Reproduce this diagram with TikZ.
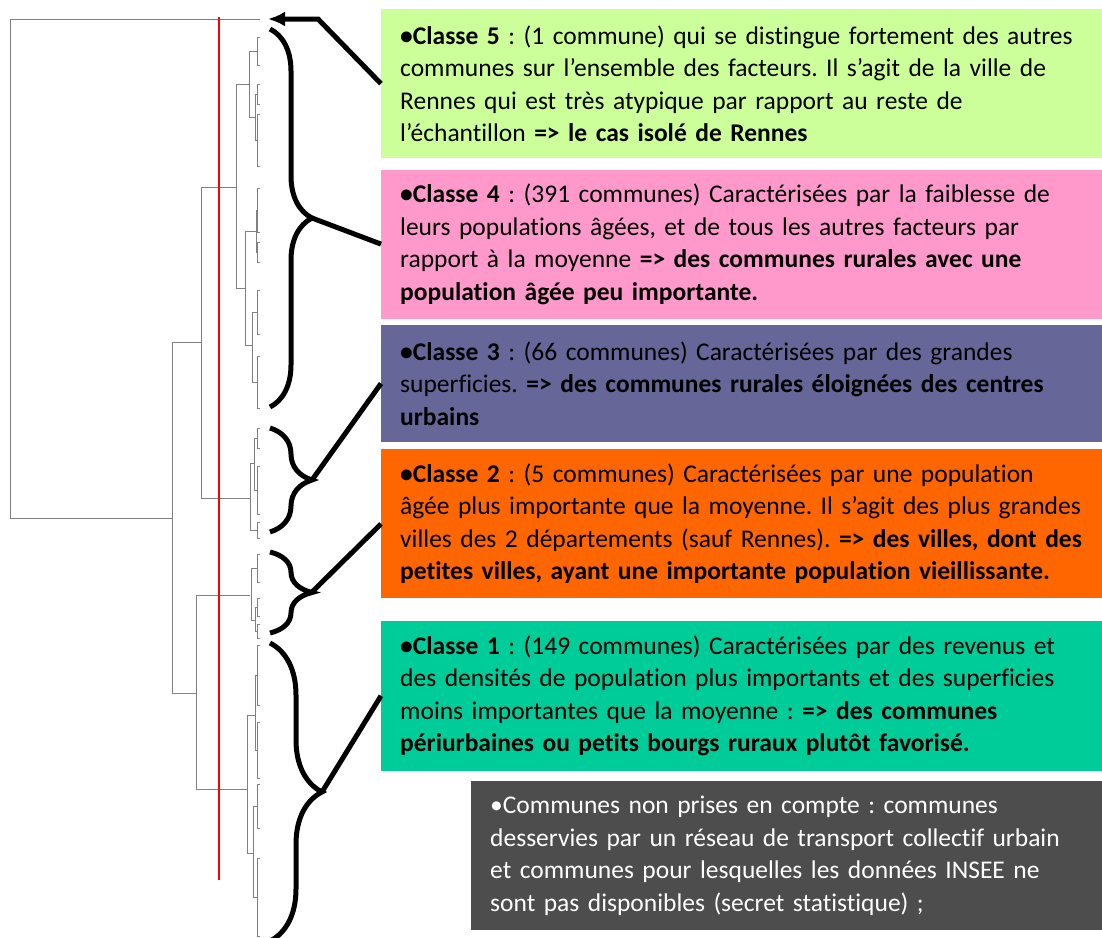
\documentclass[tikz,border=0pt]{standalone}
\usepackage{fontspec}
\setmainfont{Carlito}[Ligatures=CommonOff]
\usetikzlibrary{arrows.meta, decorations.pathreplacing, positioning}

\definecolor{classfive}{HTML}{CCFF99}
\definecolor{classfour}{HTML}{FF99CC}
\definecolor{classthree}{HTML}{666699}
\definecolor{classtwo}{HTML}{FF6600}
\definecolor{classone}{HTML}{00CC99}
\definecolor{other}{HTML}{4D4D4D}

\frenchspacing

\begin{document}
\begin{tikzpicture}[
    x=1pt, y=-1pt,
    font=\fontsize{25.5}{32.5}\selectfont,
    box/.style={rectangle, minimum width=740pt, text width=702pt, inner xsep=19pt, inner ysep=0pt, align=left},
    tall/.style={minimum height=149pt},
    dendro/.style={draw=gray, line width=1pt},
    curly/.style={decorate, decoration={brace, amplitude=#1}, line width=5pt},
    link/.style={line width=5pt}
]
\useasboundingbox (0,0) rectangle (1102,937);

% Boxes
\node[box, tall, fill=classfive, anchor=north west] (box5) at (381,9) {\textbf{•Classe 5} : (1 commune) qui se distingue fortement des autres\\communes sur l’ensemble des facteurs. Il s’agit de la ville de\\Rennes qui est très atypique par rapport au reste de\\l’échantillon \textbf{=> le cas isolé de Rennes}};
\node[box, tall, fill=classfour, below=11pt of box5] (box4) {\textbf{•Classe 4} : (391 communes) Caractérisées par la faiblesse de\\leurs populations âgées, et de tous les autres facteurs par\\rapport à la moyenne \textbf{=> des communes rurales avec une}\\\textbf{population âgée peu importante.}};
\node[box, minimum height=117pt, fill=classthree, below=6pt of box4] (box3) {\textbf{•Classe 3} : (66 communes) Caractérisées par des grandes\\superficies. \textbf{=> des communes rurales éloignées des centres}\\\textbf{urbains}};
\node[box, tall, fill=classtwo, below=7pt of box3] (box2) {\textbf{•Classe 2} : (5 communes) Caractérisées par une population\\âgée plus importante que la moyenne. Il s’agit des plus grandes\\villes des 2 départements (sauf Rennes). \textbf{=> des villes, dont des}\\\textbf{petites villes, ayant une importante population vieillissante.}};
\node[box, minimum height=150pt, fill=classone, below=22pt of box2] (box1) {\textbf{•Classe 1} : (149 communes) Caractérisées par des revenus et\\des densités de population plus importants et des superficies\\moins importantes que la moyenne : \textbf{=> des communes}\\\textbf{périurbaines ou petits bourgs ruraux plutôt favorisé.}};
\node[box, tall, minimum width=650pt, text width=612pt, fill=other, text=white, anchor=north west] (box0) at (box1.south west -| 471,0) [yshift=-10pt] {•Communes non prises en compte : communes\\desservies par un réseau de transport collectif urbain\\et communes pour lesquelles les données INSEE ne\\sont pas disponibles (secret statistique) ;};

% Dendrogram
\foreach \x/\ya/\yb/\xa/\xb in {10/19/518/260/172, 172/342/693/201/196, 201/187/498/236/250,
    196/595/789/250/247, 236/84/288/249/245, 249/51/117/257/255, 255/94/140/257/257,
    245/231/345/256/252, 256/210/252/257/257, 252/312/382/257/257, 250/463/530/254/257,
    254/438/490/257/257, 251/568/620/257/255, 255/607/631/257/257, 247/715/853/255/253,
    255/675/750/257/257, 253/806/897/257/257}
    \draw[dendro] (\xa,\ya) -- (\x,\ya) -- (\x,\yb) -- (\xb,\yb);
\foreach \ya/\yb in {37/65, 84/104, 114/166, 188/232, 242/262, 290/334, 356/408, 428/448,
    466/514, 522/538, 554/582, 598/616, 624/638, 645/705, 722/778, 784/828, 858/936}
    \draw[dendro] (260,\ya) -- (257,\ya) -- (257,\yb) -- (260,\yb);

% Cut line
\draw[red, line width=1.5pt] (219,17) -- (219,880);

% Braces
\draw[curly=42pt] (270,29) -- (270,407);
\draw[curly=42pt] (270,428) -- (270,532);
\draw[curly=42pt] (270,552) -- (270,633);
\draw[curly=52pt] (270,643) -- (270,941);
\coordinate (tip4) at (312,218);
\coordinate (tip3) at (312,480);
\coordinate (tip2) at (312,592);
\coordinate (tip1) at (322,792);
\coordinate (bend5) at (318,19);
\coordinate (rennes) at (268,19);

% Links
\draw[link, -{Latex[length=17pt, width=15pt]}] (box5.west) -- (bend5) -- (rennes);
\draw[link] (tip4) -- (box4.west);
\draw[link] (tip3) -- (box3.west);
\draw[link] (tip2) -- (box2.west);
\draw[link] (tip1) -- (box1.west);
\end{tikzpicture}
\end{document}
